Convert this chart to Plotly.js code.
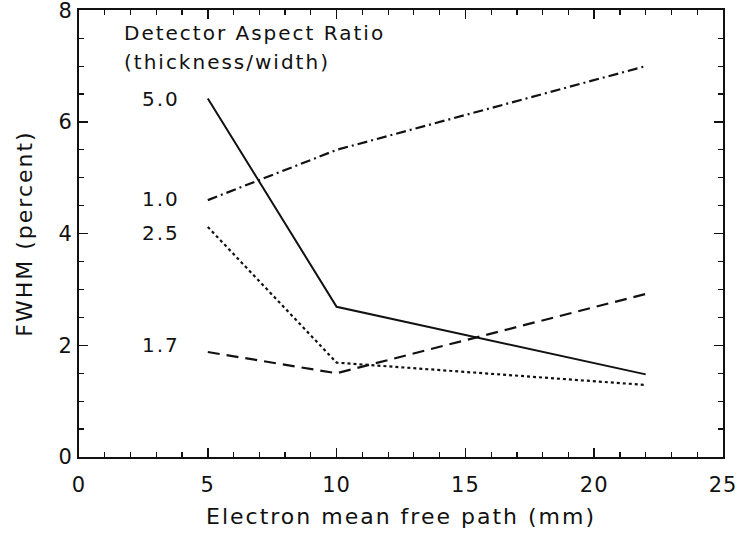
<!DOCTYPE html>
<html><head><meta charset="utf-8">
<script src="https://cdn.plot.ly/plotly-3.0.1.min.js"></script>
<style>body{margin:0;background:#fff}#c{width:738px;height:540px}
.xtitle,.ytitle,.annotation-text{letter-spacing:2px}
.xtick text,.ytick text{letter-spacing:1px}</style>
</head><body><div id="c"></div>
<script>
const mfp = [5, 10, 22];
const ratio50 = [6.42, 2.69, 1.48];
const ratio10 = [4.6, 5.5, 7.0];
const ratio25 = [4.12, 1.69, 1.29];
const ratio17 = [1.88, 1.5, 2.92];
const seriesLabels = ["5.0", "1.0", "2.5", "1.7"];
const labelY = [6.41, 4.62, 4.02, 2.0];

const F = "DejaVu Sans, Arial, sans-serif";
function tr(y, dash, w){return {x: mfp, y: y, mode:'lines', line:{color:'#111', width:w, dash:dash}, showlegend:false, hoverinfo:'skip'};}
const data = [tr(ratio50,'solid',2), tr(ratio10,'10px,4px,2px,4px',2.2), tr(ratio25,'dot',2.2), tr(ratio17,'12px,7px',2.2)];

const ann = seriesLabels.map((t,i)=>({x:4.0, y:labelY[i], xref:'x', yref:'y', text:t, showarrow:false, xanchor:'right', yanchor:'middle', font:{family:F, size:20, color:'#111'}}));
ann.push({x:1.65, y:7.6, xref:'x', yref:'y', text:'Detector Aspect Ratio', showarrow:false, xanchor:'left', yanchor:'middle', font:{family:F, size:20, color:'#111'}});
ann.push({x:1.65, y:7.08, xref:'x', yref:'y', text:'(thickness/width)', showarrow:false, xanchor:'left', yanchor:'middle', font:{family:F, size:20, color:'#111'}});

const ax = {showgrid:false, zeroline:false, showline:true, linecolor:'#111', linewidth:2, mirror:'ticks', ticks:'inside', ticklen:9, tickwidth:1.5, tickcolor:'#111', ticklabeloverflow:'allow', tickfont:{family:F, size:21, color:'#111'}};
const layout = {
  width:738, height:540, margin:{l:79, r:15, t:10, b:83},
  paper_bgcolor:'#fff', plot_bgcolor:'#fff',
  xaxis: Object.assign({}, ax, {range:[0,25], tickmode:'linear', tick0:0, dtick:5, ticklabelstandoff:8, minor:{dtick:1, ticks:'inside', ticklen:5, tickcolor:'#111', tickwidth:1.2}, title:{text:'Electron mean free path (mm)', font:{family:F, size:22, color:'#111'}, standoff:12}}),
  yaxis: Object.assign({}, ax, {range:[0,8.005], tickmode:'linear', tick0:0, dtick:2, minor:{dtick:0.5, ticks:'inside', ticklen:5, tickcolor:'#111', tickwidth:1.2}, title:{text:'FWHM (percent)', font:{family:F, size:22, color:'#111'}, standoff:20}}),
  annotations: ann
};
Plotly.newPlot('c', data, layout, {staticPlot:true});
</script></body></html>
